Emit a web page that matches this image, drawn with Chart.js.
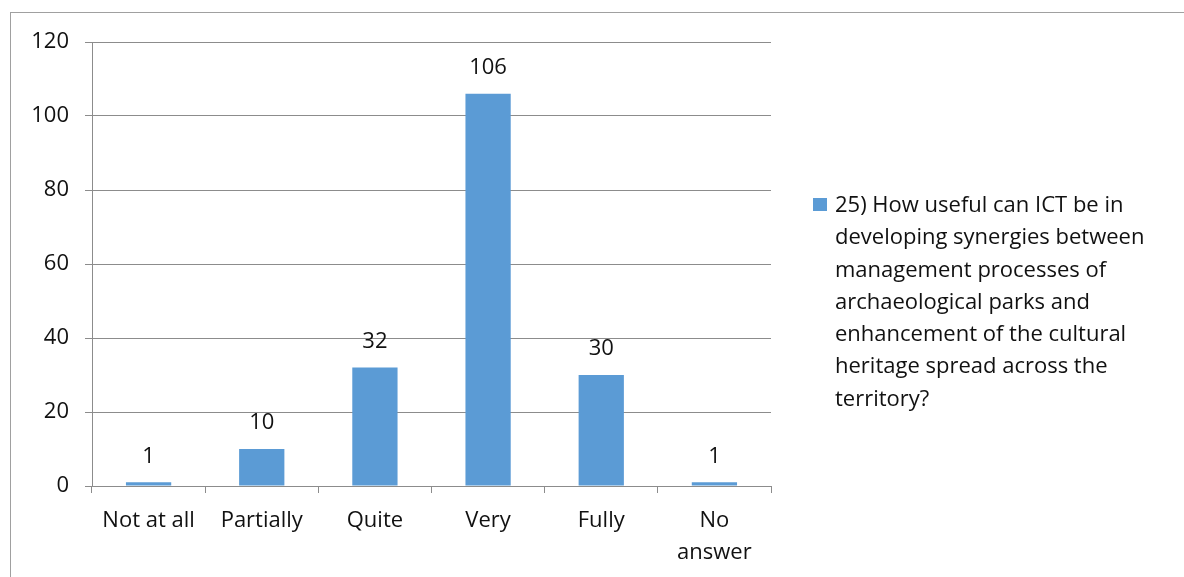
<!DOCTYPE html>
<html>
<head>
<meta charset="utf-8">
<script src="https://cdn.jsdelivr.net/npm/chart.js@4.4.0/dist/chart.umd.min.js"></script>
<style>
  html, body { margin: 0; padding: 0; background: #fff; }
  #wrap { position: relative; width: 1184px; height: 577px; overflow: hidden; }
  #frame { position: absolute; left: 10px; top: 12px; width: 1200px; height: 600px;
           border-left: 1px solid #a0a0a0; border-top: 1px solid #a0a0a0; }
  canvas { position: absolute; left: 0; top: 0; }
  #legend { position: absolute; left: 813px; top: 187px; font-family: 'Open Sans', sans-serif;
            font-size: 22px; line-height: 32.3px; color: #111; }
  #legend .box { position: absolute; left: 0; top: 11px; width: 14px; height: 13px; }
  #legend .txt { margin-left: 22px; white-space: nowrap; }
</style>
</head>
<body>
<div id="wrap">
  <div id="frame"></div>
  <canvas id="chart" width="1184" height="577"></canvas>
  <div id="legend"></div>
</div>
<script>
// Chart data
const categories = ['Not at all', 'Partially', 'Quite', 'Very', 'Fully', ['No', 'answer']];
const responses = [1, 10, 32, 106, 30, 1];
const yTicks = [0, 20, 40, 60, 80, 100, 120];
const seriesLabelLines = [
    '25) How useful can ICT be in',
    'developing synergies between',
    'management processes of',
    'archaeological parks and',
    'enhancement of the cultural',
    'heritage spread across the',
    'territory?'
];
const barColor = '#5b9bd5';
const fontFamily = "'Open Sans', sans-serif";

// Value labels above the bars
const valueLabels = {
    id: 'valueLabels',
    afterDatasetsDraw(chart) {
        const ctx = chart.ctx;
        const meta = chart.getDatasetMeta(0);
        ctx.save();
        ctx.font = '22px ' + fontFamily;
        ctx.fillStyle = '#111';
        ctx.textAlign = 'center';
        ctx.textBaseline = 'middle';
        meta.data.forEach((bar, i) => {
            ctx.fillText(String(responses[i]), bar.x, bar.y - 26);
        });
        ctx.restore();
    }
};

const chart = new Chart(document.getElementById('chart'), {
    type: 'bar',
    data: {
        labels: categories,
        datasets: [{
            label: seriesLabelLines.join(' '),
            data: responses,
            backgroundColor: barColor,
            categoryPercentage: 1,
            barPercentage: 0.4
        }]
    },
    options: {
        responsive: false,
        animation: false,
        layout: { padding: { left: 0, top: 42, right: 413, bottom: 0 } },
        plugins: {
            legend: { display: false },
            tooltip: { enabled: false }
        },
        scales: {
            x: {
                afterFit: s => { s.height = 91; },
                grid: {
                    offset: true,
                    drawOnChartArea: false,
                    color: '#8c8c8c',
                    tickLength: 7
                },
                border: { color: '#8c8c8c' },
                ticks: {
                    color: '#111',
                    padding: 12,
                    font: { family: fontFamily, size: 22, lineHeight: 1.45 },
                    maxRotation: 0,
                    autoSkip: false
                }
            },
            y: {
                min: 0,
                max: 120,
                afterFit: s => { s.width = 92; },
                afterBuildTicks: s => { s.ticks = yTicks.map(v => ({ value: v })); },
                grid: { color: '#8c8c8c', tickLength: 7 },
                border: { color: '#8c8c8c' },
                ticks: {
                    color: '#111',
                    padding: 16,
                    font: { family: fontFamily, size: 22 }
                }
            }
        }
    },
    plugins: [valueLabels]
});

// Legend beside the plot
const legend = document.getElementById('legend');
legend.innerHTML = '<span class="box" style="background:' + barColor + '"></span>' +
    '<div class="txt">' + seriesLabelLines.join('<br>') + '</div>';
</script>
</body>
</html>
